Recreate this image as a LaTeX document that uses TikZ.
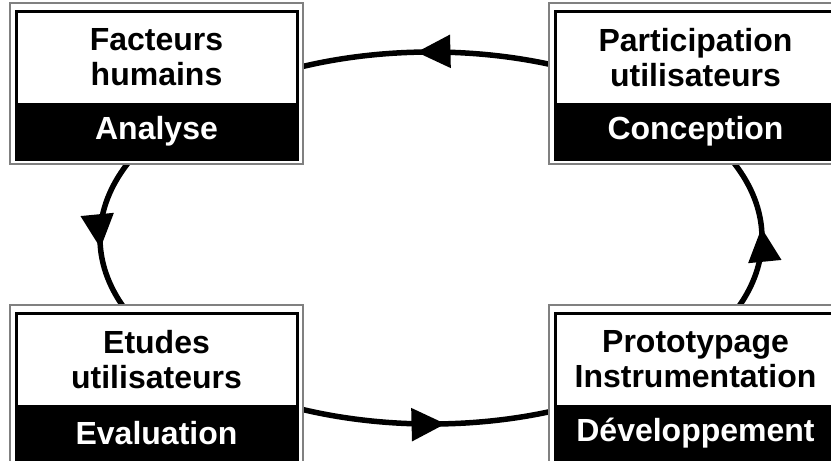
\documentclass[tikz,border=0pt]{standalone}
\usepackage{fontspec}
\setmainfont{Liberation Sans}
\usetikzlibrary{arrows.meta,decorations.markings}
\tikzstyle{cadre}=[draw=gray, line width=1.2pt, fill=white, minimum width=293pt, minimum height=161pt, inner sep=0pt]
\tikzstyle{haut}=[draw=black, line width=3pt, fill=white, minimum width=281pt, minimum height=93pt, inner sep=0pt, align=center, font=\bfseries\fontsize{32}{35}\selectfont]
\tikzstyle{bas}=[draw=black, line width=3pt, fill=black, text=white, minimum width=281pt, minimum height=55pt, inner sep=0pt, font=\bfseries\fontsize{32}{35}\selectfont]
\tikzstyle{sens}=[line width=5.5pt, postaction={decorate}, decoration={markings, mark=at position 0.53 with {\arrow{Triangle[length=34pt,width=32pt]}}}]

\begin{document}
\begin{tikzpicture}[x=1pt, y=-1pt]
	\clip (0,0) rectangle (831,461);
	\coordinate (centre) at (431,238);
	% le cycle, sous les boites
	\draw[sens] ([shift={(45:331pt and 186pt)}]centre) arc[start angle=45, end angle=135, x radius=331pt, y radius=186pt];
	\draw[sens] ([shift={(135:331pt and 186pt)}]centre) arc[start angle=135, end angle=225, x radius=331pt, y radius=186pt];
	\draw[sens] ([shift={(225:331pt and 186pt)}]centre) arc[start angle=225, end angle=315, x radius=331pt, y radius=186pt];
	\draw[sens] ([shift={(315:331pt and 186pt)}]centre) arc[start angle=315, end angle=405, x radius=331pt, y radius=186pt];

	\node[cadre] (analysecadre) at (156.5,83.5) {};
	\node[haut] (facteurs) at (156.5,57.5) {Facteurs\\humains};
	\node[bas] (analyse) at (156.5,131.5) {Analyse};

	\node[cadre] (conceptioncadre) at (695.5,83.5) {};
	\node[haut] (participation) at (695.5,57.5) {Participation\\utilisateurs};
	\node[bas] (conception) at (695.5,131.5) {Conception};

	\node[cadre] (evaluationcadre) at (156.5,385.5) {};
	\node[haut] (etudes) at (156.5,359.5) {Etudes\\utilisateurs};
	\node[bas] (evaluation) at (156.5,433.5) {Evaluation};

	\node[cadre] (developpementcadre) at (695.5,385.5) {};
	\node[haut] (prototypage) at (695.5,359.5) {Prototypage\\Instrumentation};
	\node[bas] (developpement) at (695.5,433.5) {Développement};
\end{tikzpicture}
\end{document}
